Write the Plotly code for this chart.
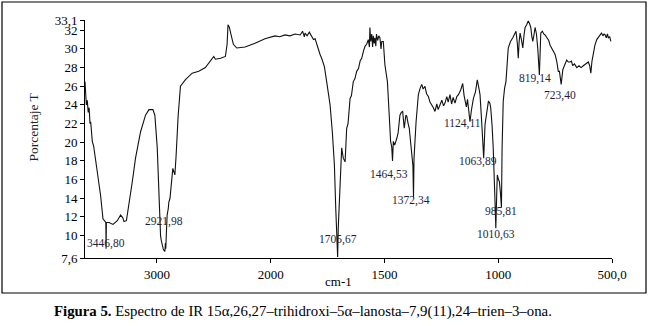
import numpy as np
import plotly.graph_objects as go

# ---------------- data ----------------
wavenumber = [
    3632, 3625, 3620, 3612, 3604, 3596, 3588, 3582, 3575, 3568, 3556, 3544, 3524, 3495, 3474, 3456,
    3449, 3446.8, 3444, 3421, 3386, 3348, 3319, 3300, 3289, 3268, 3245, 3216, 3188, 3144, 3100, 3070,
    3035, 3018, 2997, 2982, 2968, 2962, 2953, 2945, 2938, 2930, 2925, 2921.98, 2916, 2910, 2900, 2895,
    2885, 2872, 2860, 2850, 2842, 2831, 2813, 2793, 2749, 2690, 2632, 2574, 2515, 2500, 2486, 2440,
    2398, 2383, 2375, 2363, 2348, 2328, 2298, 2225, 2138, 2050, 1981, 1960, 1937, 1915, 1893, 1870,
    1860, 1852, 1849, 1840, 1830, 1820, 1812, 1805, 1798, 1790, 1783, 1776, 1770, 1764, 1754, 1739,
    1729, 1720, 1714, 1705.67, 1703, 1695, 1688, 1681, 1673, 1666, 1660, 1651, 1645, 1637, 1630, 1622,
    1614, 1607, 1600, 1592, 1585, 1578, 1571, 1566, 1564, 1560, 1556, 1552, 1549, 1545, 1542, 1538,
    1535, 1530, 1525, 1520, 1515, 1512, 1505, 1498, 1487, 1479, 1473, 1468, 1464.53, 1461, 1455, 1446,
    1440, 1432, 1426, 1420, 1413, 1406, 1402, 1396, 1391, 1385, 1380, 1375, 1372.34, 1370, 1361, 1351,
    1343, 1336, 1330, 1322, 1315, 1307, 1300, 1292, 1285, 1278, 1270, 1264, 1256, 1248, 1240, 1234,
    1226, 1220, 1212, 1205, 1198, 1190, 1182, 1175, 1165, 1156, 1150, 1146, 1140, 1135, 1128, 1124.11,
    1118, 1109, 1100, 1092, 1085, 1080, 1072, 1063.89, 1058, 1050, 1043, 1037, 1033, 1027, 1022, 1014,
    1010.63, 1006, 1004, 999, 995, 990, 985.81, 983, 978, 972, 966, 956, 946, 936, 928, 922,
    916, 912, 908, 904, 898, 892, 887, 882, 875, 868, 862, 857, 852, 848, 843, 838,
    832, 826, 819.14, 813, 806, 800, 794, 785, 778, 772, 762, 755, 750, 743, 736, 731,
    723.4, 716, 708, 699, 692, 684, 678, 673, 665, 655, 645, 636, 626, 615, 604, 598,
    593, 588, 582, 575, 567, 560, 552, 546, 540, 535, 530, 525, 520, 516, 510, 505,
]
transmittance = [
    26.5, 25.2, 24.0, 24.5, 23.2, 23.7, 22.0, 22.2, 21.2, 20.1, 19.6, 18.6, 16.8, 14.3, 11.8, 11.5,
    11.4, 8.6, 11.4, 11.4, 11.2, 11.6, 12.2, 11.9, 11.5, 11.6, 13.3, 15.8, 18.3, 21.1, 22.9, 23.5,
    23.5, 22.9, 19.4, 13.3, 10.0, 9.5, 8.9, 8.6, 8.4, 8.3, 9.2, 8.6, 10.5, 12.2, 12.9, 13.6,
    14.0, 15.8, 17.2, 16.8, 16.5, 18.6, 22.9, 26.0, 26.7, 27.4, 27.6, 28.0, 29.0, 29.2, 28.9, 29.0,
    29.2, 30.5, 32.6, 32.3, 31.5, 30.5, 30.1, 30.2, 30.6, 31.1, 31.4, 31.3, 31.5, 31.4, 31.6, 31.5,
    31.9, 31.3, 31.7, 31.4, 31.8, 31.4, 31.0, 31.1, 30.5, 29.9, 29.4, 29.0, 28.6, 28.1, 26.5, 24.0,
    21.1, 17.6, 12.9, 7.7, 10.8, 15.1, 19.4, 18.3, 17.9, 21.5, 22.0, 24.7, 25.0, 26.5, 26.8, 27.6,
    27.9, 28.7, 29.0, 29.8, 30.3, 30.5, 31.0, 30.2, 32.3, 30.8, 31.6, 30.2, 31.4, 30.6, 31.2, 30.3,
    31.6, 30.9, 31.4, 31.2, 30.0, 30.8, 30.8, 28.3, 26.5, 22.9, 20.1, 19.5, 18.0, 20.1, 19.7, 20.4,
    21.0, 22.9, 23.2, 23.3, 21.5, 22.9, 22.8, 22.0, 21.5, 20.0, 18.6, 17.5, 14.1, 18.3, 22.2, 25.1,
    25.8, 26.2, 25.7, 26.0, 25.2, 24.9, 24.3, 24.0, 23.7, 23.3, 24.1, 23.5, 24.0, 24.5, 23.9, 24.2,
    24.9, 24.3, 25.1, 24.1, 24.8, 24.2, 24.9, 25.1, 25.6, 26.3, 25.0, 24.4, 23.8, 24.6, 23.2, 22.2,
    23.4, 24.7, 25.4, 26.7, 25.8, 25.1, 21.9, 18.3, 21.9, 23.4, 24.4, 24.2, 23.7, 21.8, 19.4, 13.6,
    10.8, 15.0, 16.5, 16.0, 15.8, 14.5, 13.0, 19.4, 24.4, 25.8, 26.5, 30.1, 30.8, 31.2, 31.6, 31.9,
    30.6, 29.0, 30.8, 31.7, 31.0, 30.1, 31.4, 32.3, 32.6, 33.0, 32.7, 32.3, 31.3, 30.8, 31.5, 32.3,
    31.6, 30.0, 27.2, 31.7, 31.9, 31.6, 31.5, 31.2, 30.9, 30.4, 29.9, 29.7, 29.4, 28.7, 27.6, 27.6,
    26.2, 27.8, 28.3, 28.8, 28.6, 28.6, 28.7, 28.2, 28.4, 28.0, 28.2, 28.0, 28.2, 28.4, 28.6, 28.2,
    27.4, 28.7, 29.7, 30.4, 31.0, 31.3, 31.5, 31.7, 31.4, 31.6, 31.5, 31.2, 31.6, 31.2, 31.3, 30.8,
]

# labelled peaks
peak_wn = [3446.80, 2921.98, 1705.67, 1464.53, 1372.34, 1124.11, 1063.89, 985.81, 1010.63, 819.14, 723.40]
peak_text = ["3446,80", "2921,98", "1705,67", "1464,53", "1372,34", "1124,11", "1063,89",
             "985,81", "1010,63", "819,14", "723,40"]

# axis ticks
x_tick_wn = [3000, 2000, 1500, 1000, 500]
x_tick_text = ["3000", "2000", "1500", "1000", "500,0"]
y_tick_vals = [7.6, 10, 12, 14, 16, 18, 20, 22, 24, 26, 28, 30, 32, 33.1]
y_tick_text = ["7,6", "10", "12", "14", "16", "18", "20", "22", "24", "26", "28", "30", "32", "33,1"]

X_MIN_WN, X_MAX_WN = 500, 3632
Y_MIN, Y_MAX = 7.6, 33.1

# ---------------- layout helpers (not data) ----------------
# label placement: (transmittance level of the label, horizontal shift in px)
label_place = [(9.2, 0), (11.5, -2), (9.6, 0), (16.6, -4), (13.8, -3), (22.0, -7),
               (17.9, -6), (12.6, 0), (10.1, 0), (26.8, -4), (25.0, -1)]


def to_axis(wn):
    """Spectrometer x scale: the region above 2000 cm-1 is compressed by a factor 2."""
    wn = np.asarray(wn, dtype=float)
    return np.where(wn <= 2000, wn, 2000 + (wn - 2000) / 2.0)


SERIF = "Liberation Serif, Times New Roman, serif"

fig = go.Figure()
fig.add_trace(go.Scatter(
    x=to_axis(wavenumber), y=transmittance, mode="lines",
    line=dict(color="#111111", width=1.1), hoverinfo="skip", showlegend=False,
))

for wn, txt, (ly, sh) in zip(peak_wn, peak_text, label_place):
    fig.add_annotation(x=float(to_axis(wn)), y=ly, text=txt, showarrow=False,
                       xanchor="center", yanchor="middle", xshift=sh,
                       font=dict(family=SERIF, size=11.5, color="#1e1e3c"))

# plot area: x 85..612, y 20..258 (pixels)
PL, PR, PT, PB = 85, 38, 20, 68
W, H = 650, 326
pw, ph = W - PL - PR, H - PT - PB


def px_x(px):
    return (px - PL) / pw


def px_y(py):
    return (H - PB - py) / ph


fig.update_layout(
    width=W, height=H,
    margin=dict(l=PL, r=PR, t=PT, b=PB, pad=0),
    paper_bgcolor="white", plot_bgcolor="white",
    font=dict(family=SERIF, size=13, color="black"),
    xaxis=dict(
        range=[float(to_axis(X_MAX_WN)), float(to_axis(X_MIN_WN))],
        tickvals=[float(v) for v in to_axis(x_tick_wn)], ticktext=x_tick_text,
        showline=True, linecolor="black", linewidth=1, mirror=False,
        ticks="outside", ticklen=4, tickcolor="black", tickwidth=1,
        showgrid=False, zeroline=False, tickfont=dict(size=13, family=SERIF),
    ),
    yaxis=dict(
        range=[Y_MIN, Y_MAX], tickvals=y_tick_vals, ticktext=y_tick_text,
        showline=True, linecolor="black", linewidth=1,
        ticks="outside", ticklen=4, tickcolor="black", tickwidth=1,
        showgrid=False, zeroline=False, tickfont=dict(size=13, family=SERIF),
    ),
)

# axis titles
fig.add_annotation(xref="paper", yref="paper", x=px_x(33), y=px_y(127.5), text="Porcentaje T",
                   textangle=-90, showarrow=False, xanchor="center", yanchor="middle",
                   font=dict(family=SERIF, size=13.5, color="#222222"))
fig.add_annotation(xref="paper", yref="paper", x=px_x(338), y=px_y(281), text="cm-1",
                   showarrow=False, xanchor="center", yanchor="middle",
                   font=dict(family=SERIF, size=13, color="black"))

# caption
fig.add_annotation(xref="paper", yref="paper", x=px_x(302.5), y=px_y(311.5),
                   text="<b>Figura 5.</b> Espectro de IR 15α,26,27–trihidroxi–5α–lanosta–7,9(11),24–trien–3–ona.",
                   showarrow=False, xanchor="center", yanchor="middle",
                   font=dict(family=SERIF, size=14.8, color="black"))

# outer frame
fig.add_shape(type="rect", xref="paper", yref="paper",
              x0=px_x(2), x1=px_x(646), y0=px_y(293), y1=px_y(2),
              line=dict(color="black", width=1.2), fillcolor="rgba(0,0,0,0)", layer="above")

fig.write_html("out.html",
               config={"displayModeBar": False},
               post_script="document.body.style.margin='0';document.body.style.padding='0';")
